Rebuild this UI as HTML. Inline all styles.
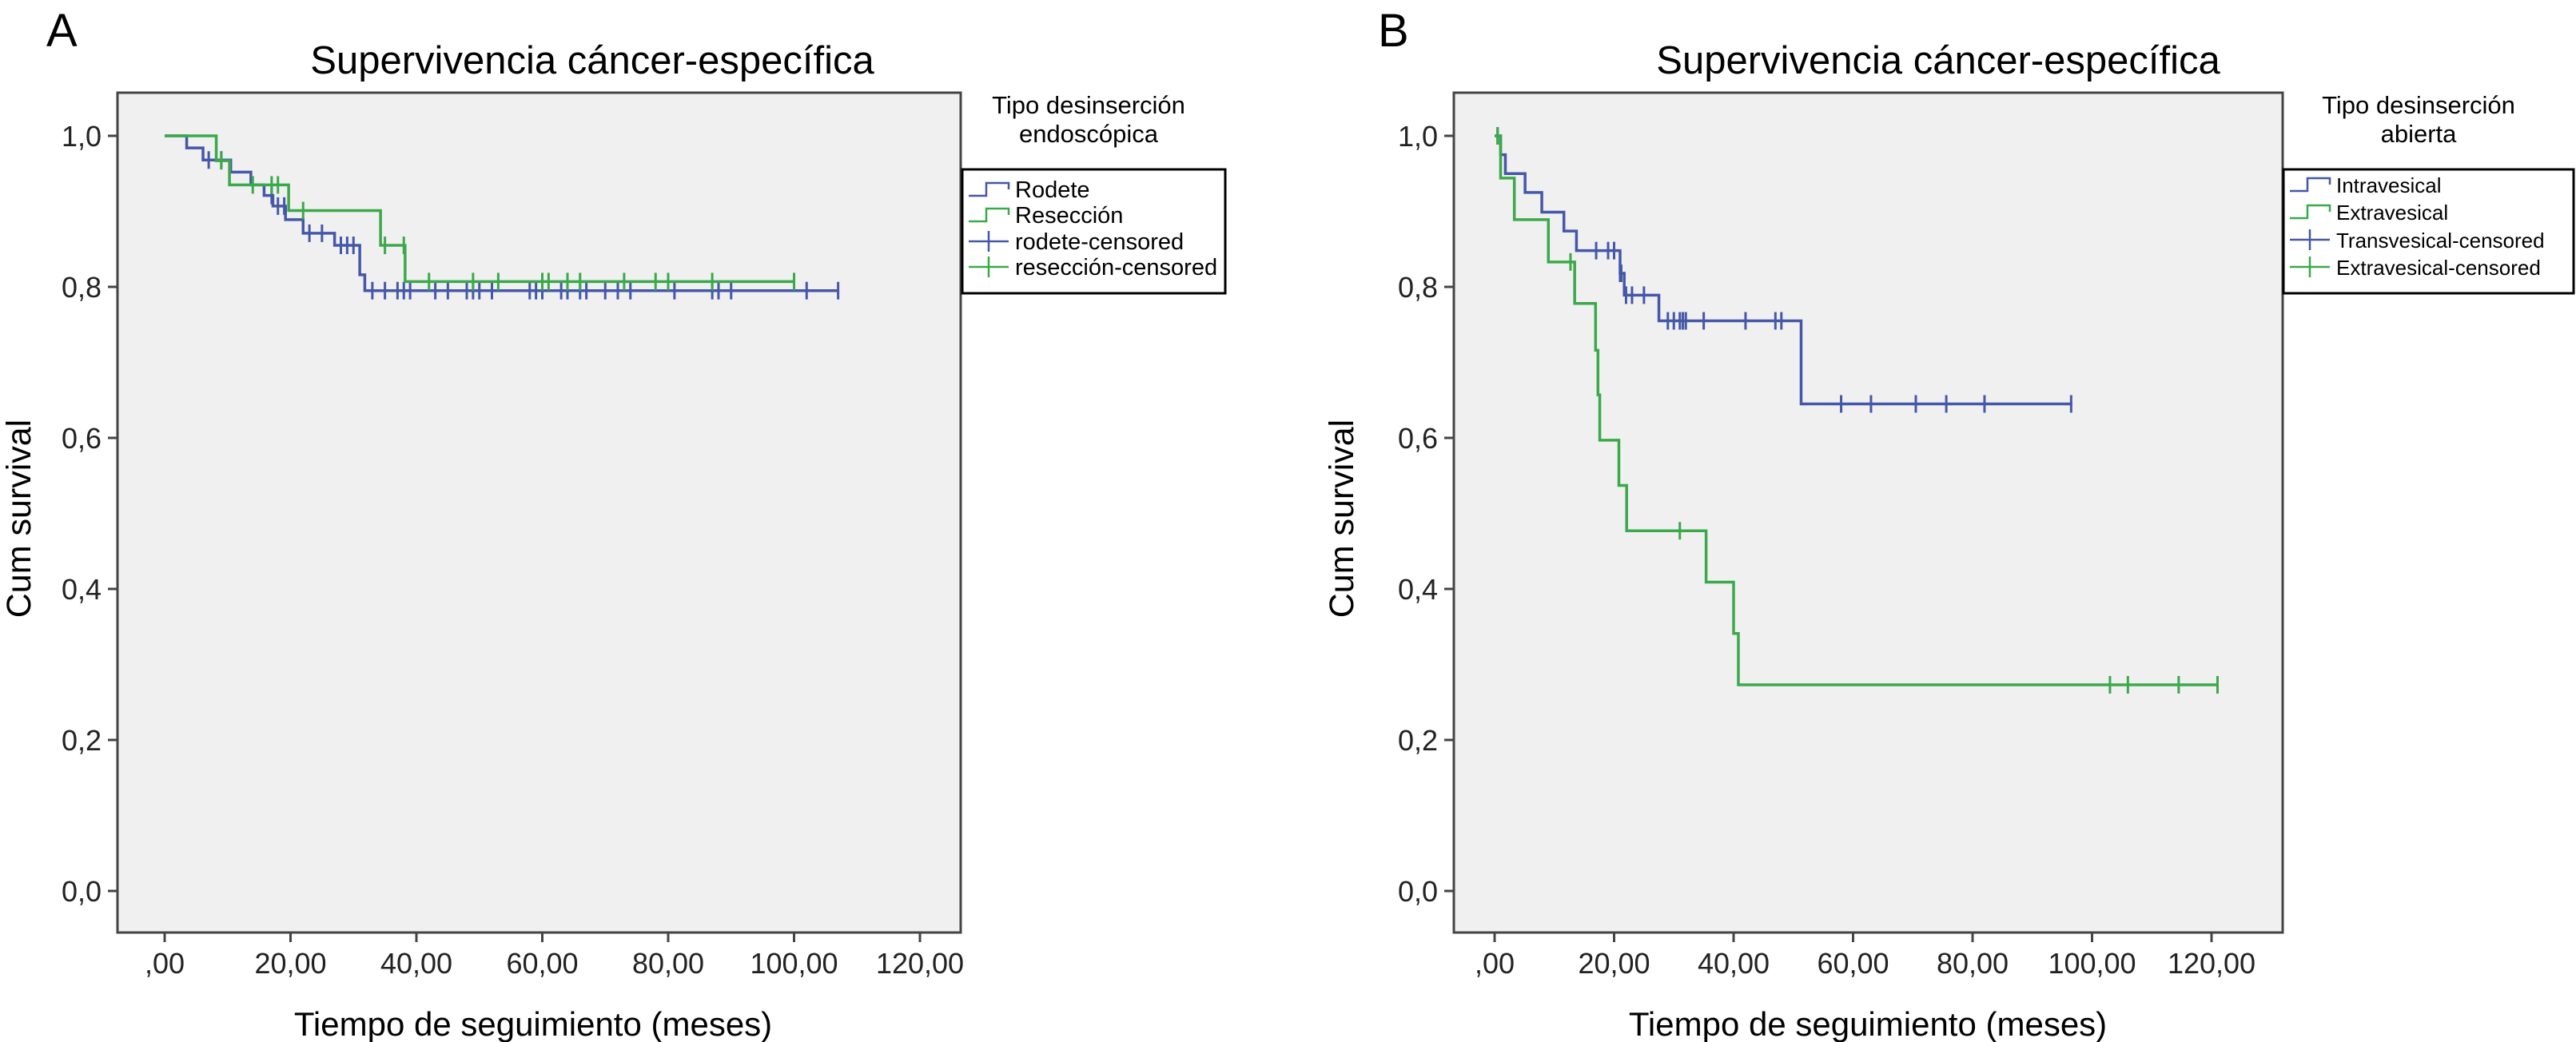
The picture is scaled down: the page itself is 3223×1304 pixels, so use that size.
<!DOCTYPE html>
<html><head><meta charset="utf-8"><style>
html,body{margin:0;padding:0;background:#fff;}
svg{display:block;font-family:"Liberation Sans",sans-serif;}
</style></head><body>
<svg id="svg" width="3223" height="1304" viewBox="0 0 3223 1304" xmlns="http://www.w3.org/2000/svg"></svg>
<script>
// Panel A data
const aRodeteTimes=[0,3.5,6.1,10.5,13.7,15.8,17.2,19.2,22,27,31,31.8];
const aRodeteSurv=[1.0,0.984,0.968,0.952,0.935,0.921,0.907,0.889,0.871,0.855,0.816,0.795];
const aRodeteEnd=107;
const aRodeteCens=[7,9,17,18,19,23,25,28,29,30,33,35,37,38,39,43,45,48,49,50,52,58,59,60,63,64,66,67,70,72,74,81,87,88,90,102,107];
const aResecTimes=[0,8.2,10.3,19.7,34.3,38.2];
const aResecSurv=[1.0,0.967,0.935,0.901,0.855,0.807];
const aResecEnd=100;
const aResecCens=[9,14,17,18,22,35,38,42,49,53,60,61,64,66,73,78,80,87,100];
// Panel B data
const bIntraTimes=[0,1,1.8,5.1,7.9,11.6,13.7,21,21.7,27.5,51.3];
const bIntraSurv=[1.0,0.975,0.95,0.925,0.899,0.874,0.848,0.818,0.789,0.755,0.645];
const bIntraEnd=96.7;
const bIntraCens=[0.5,17,19,20,21,21.2,22,23,25,29,30,31,31.5,32,35,42,47,48,58,63,70.5,75.6,82,96.5];
const bExtraTimes=[0,1,3.3,9,13.4,16.9,17.3,17.6,20.8,22.1,35.4,40,40.8];
const bExtraSurv=[1.0,0.944,0.889,0.833,0.778,0.716,0.657,0.597,0.537,0.477,0.409,0.341,0.273];
const bExtraEnd=121;
const bExtraCens=[0.5,12.7,31,103,106,114.5,121];
const xTicks=[0,20,40,60,80,100,120];
const xTickLabels=[",00","20,00","40,00","60,00","80,00","100,00","120,00"];
const yTicks=[0,0.2,0.4,0.6,0.8,1.0];
const yTickLabels=["0,0","0,2","0,4","0,6","0,8","1,0"];

const NS="http://www.w3.org/2000/svg";
const svg=document.getElementById('svg');
function mk(tag,attrs,parent,text){const e=document.createElementNS(NS,tag);for(const k in attrs)e.setAttribute(k,attrs[k]);if(text!==undefined)e.textContent=text;(parent||svg).appendChild(e);return e;}
const BLUE="#4557a8",GREEN="#3aa94a";

function panel(p){
  const g=mk('g',{});
  
  
  const X=v=>p.x0+(v-0)*(p.x120-p.x0)/120;
  const Y=v=>1115+(170-1115)*v;
  let t=mk('text',{x:p.letterX,y:58,'font-size':58},g,p.letter);
  
  t=mk('text',{x:p.titleX,y:92,'font-size':49,'text-anchor':'middle'},g,'Supervivencia cáncer-específica');
  
  const r=mk('rect',{x:p.bl,y:116,width:p.br-p.bl,height:1051,fill:'#f0f0f0',stroke:'#444','stroke-width':3},g);
  
  yTicks.forEach((v,i)=>{
    mk('line',{x1:p.bl-12,x2:p.bl,y1:Y(v),y2:Y(v),stroke:'#444','stroke-width':3},g);
    const tl=mk('text',{x:p.bl-20,y:Y(v)+13,'font-size':36,'text-anchor':'end',fill:'#222'},g,yTickLabels[i]);
    
  });
  xTicks.forEach((v,i)=>{
    mk('line',{x1:X(v),x2:X(v),y1:1167,y2:1179,stroke:'#444','stroke-width':3},g);
    const tl=mk('text',{x:X(v),y:1218,'font-size':36,'text-anchor':'middle',fill:'#222'},g,xTickLabels[i]);
    
  });
  t=mk('text',{x:p.ytX,y:649,'font-size':43,'text-anchor':'middle',transform:`rotate(-90 ${p.ytX} 649)`},g,'Cum survival');
  
  t=mk('text',{x:p.xtX,y:1296,'font-size':42,'text-anchor':'middle'},g,'Tiempo de seguimiento (meses)');
  
  p.series.forEach(s=>{
    let d=`M${X(s.t[0])},${Y(s.s[0])}`;
    for(let i=1;i<s.t.length;i++){d+=` H${X(s.t[i])} V${Y(s.s[i])}`;}
    d+=` H${X(s.end)}`;
    const pa=mk('path',{d:d,fill:'none',stroke:s.c,'stroke-width':3.5},g);
    
    s.cens.forEach(c=>{
      let idx=0;for(let i=0;i<s.t.length;i++){if(s.t[i]<=c)idx=i;}
      const yy=Y(s.s[idx]);
      const m=mk('line',{x1:X(c),x2:X(c),y1:yy-11,y2:yy+11,stroke:s.c,'stroke-width':3},g);
      
    });
  });
  // legend
  mk('text',{x:p.ltX,y:142,'font-size':31,'text-anchor':'middle'},g,p.lt1);
  mk('text',{x:p.ltX,y:178,'font-size':31,'text-anchor':'middle'},g,p.lt2);
  const lb=mk('rect',{x:p.lbx,y:212,width:p.lbw,height:155,fill:'#fff',stroke:'#000','stroke-width':3},g);
  
  p.legend.forEach((e,i)=>{
    const y=p.ly[i], sx=p.lbx+8;
    if(i<2){mk('path',{d:`M${sx},${y+8} H${sx+22} V${y-8} H${sx+50} V${y}`,fill:'none',stroke:e.c,'stroke-width':2.5},g);}
    else{mk('line',{x1:sx,x2:sx+50,y1:y,y2:y,stroke:e.c,'stroke-width':2.5},g);mk('line',{x1:sx+25,x2:sx+25,y1:y-13,y2:y+13,stroke:e.c,'stroke-width':2.5},g);}
    const lt=mk('text',{x:p.lbx+66,y:y+10,'font-size':p.lfs},g,e.label);
    
  });
}
panel({id:'panel-a',letter:'A',letterX:58,titleX:741,bl:147,br:1202,x0:206,x120:1151,ytX:38,xtX:667,ltX:1362,lt1:'Tipo desinserción',lt2:'endoscópica',lbx:1204,lbw:329,ly:[237,269,302,334],lfs:29,
  series:[{name:'rodete',t:aRodeteTimes,s:aRodeteSurv,end:aRodeteEnd,cens:aRodeteCens,c:BLUE},{name:'reseccion',t:aResecTimes,s:aResecSurv,end:aResecEnd,cens:aResecCens,c:GREEN}],
  legend:[{c:BLUE,label:'Rodete'},{c:GREEN,label:'Resección'},{c:BLUE,label:'rodete-censored'},{c:GREEN,label:'resección-censored'}]});
panel({id:'panel-b',letter:'B',letterX:1724,titleX:2425,bl:1819,br:2856,x0:1870,x120:2767,ytX:1693,xtX:2337,ltX:3026,lt1:'Tipo desinserción',lt2:'abierta',lbx:2857,lbw:363,ly:[231,265,300,334],lfs:26,
  series:[{name:'intravesical',t:bIntraTimes,s:bIntraSurv,end:bIntraEnd,cens:bIntraCens,c:BLUE},{name:'extravesical',t:bExtraTimes,s:bExtraSurv,end:bExtraEnd,cens:bExtraCens,c:GREEN}],
  legend:[{c:BLUE,label:'Intravesical'},{c:GREEN,label:'Extravesical'},{c:BLUE,label:'Transvesical-censored'},{c:GREEN,label:'Extravesical-censored'}]});
</script>
</body></html>
